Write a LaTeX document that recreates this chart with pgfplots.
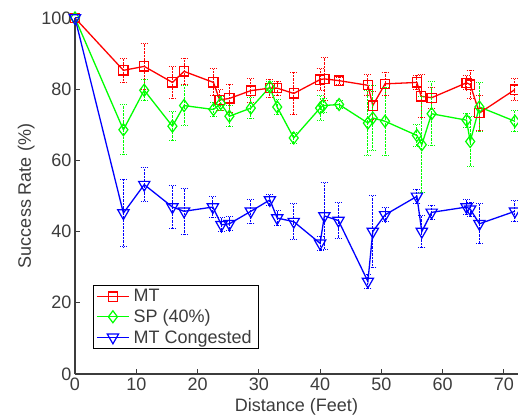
\documentclass[border=0pt]{standalone}
\usepackage{fontspec}
\setmainfont{Liberation Sans}
\usepackage{pgfplots}
\pgfplotsset{compat=1.18}
\usetikzlibrary{calc}

\definecolor{mtred}{RGB}{255,0,0}
\definecolor{spgreen}{RGB}{0,255,0}
\definecolor{cgblue}{RGB}{0,0,255}
\definecolor{axgray}{RGB}{60,60,60}

\newcommand{\bigfont}{\fontsize{18}{21}\selectfont}

\pgfplotsset{
  errstyle/.style={
    error bars/.cd, y dir=both, y explicit,
    error bar style={densely dotted, line width=1pt},
    error mark options={rotate=90, mark size=3.5pt, densely dotted, line width=1pt},
  },
}

\begin{document}
\begin{tikzpicture}
\begin{axis}[
  width=443pt, height=356pt, scale only axis,
  xmin=0, xmax=72.3, ymin=0, ymax=100,
  axis x line=bottom, axis y line=left,
  axis line style={-, line width=1.2pt, axgray},
  xtick={0,10,...,70}, ytick={0,20,...,100},
  tick align=inside, major tick length=5pt,
  tick style={axgray, line width=1pt},
  ticklabel style={font=\bigfont, text=axgray},
  /pgf/number format/assume math mode=true,
  xlabel={Distance (Feet)}, ylabel={Success Rate (\%)},
  label style={font=\bigfont, text=axgray},
  xlabel style={yshift=-1pt},
  ylabel style={yshift=0pt},
  legend style={at={(axis cs:2.9,7)}, anchor=south west,
    draw=black, line width=1pt, fill=white, font=\bigfont,
    text=axgray, cells={anchor=west},
    nodes={inner xsep=4pt, inner ysep=3pt},
    inner xsep=3pt, inner ysep=1pt},
  legend image code/.code={
    \draw[mark repeat=2,mark phase=2,#1]
      plot coordinates {(0pt,0pt) (16pt,0pt) (32pt,0pt)};
  },
  every axis plot/.append style={line width=1.3pt},
]
\coordinate (bl) at (rel axis cs:0,0);
\coordinate (tr) at (rel axis cs:1,1);

\addplot[mtred, mark=square, mark size=4.6pt, mark options={solid, line width=1.2pt}, errstyle]
coordinates {
 (0,100) +- (0,0)
 (7.9,85.3) +- (0,3.3)
 (11.3,86.4) +- (0,6.5)
 (15.9,81.9) +- (0,4.5)
 (17.8,85.0) +- (0,3.7)
 (22.6,81.9) +- (0,3.8)
 (23.6,77.0) +- (0,3)
 (25.2,77.4) +- (0,4)
 (28.7,79.6) +- (0,3.4)
 (31.8,80.3) +- (0,2.5)
 (33.0,80.3) +- (0,2)
 (35.7,78.8) +- (0,6)
 (40.0,82.7) +- (0,3)
 (40.7,82.9) +- (0,6)
 (43.1,82.4) +- (0,1)
 (47.8,81.1) +- (0,3)
 (48.6,75.4) +- (0,4)
 (50.6,81.5) +- (0,3.2)
 (55.8,81.9) +- (0,2)
 (56.5,78.0) +- (0,6)
 (58.2,77.6) +- (0,3)
 (63.9,81.8) +- (0,2)
 (64.5,81.3) +- (0,4)
 (66.0,73.3) +- (0,5)
 (71.8,79.9) +- (0,3)
};
\addlegendentry{MT}

\addplot[spgreen, mark=diamond, mark size=6pt, mark options={solid, line width=1.2pt}, errstyle]
coordinates {
 (0,100) +- (0,0)
 (7.9,68.6) +- (0,7)
 (11.3,79.7) +- (0,3)
 (15.9,69.6) +- (0,4)
 (17.8,75.4) +- (0,5.5)
 (22.6,74.3) +- (0,2)
 (23.8,76.0) +- (0,2)
 (25.2,72.4) +- (0,3)
 (28.7,74.7) +- (0,3)
 (31.8,80.6) +- (0,1.5)
 (33.0,75.0) +- (0,2)
 (35.7,66.3) +- (0,1.5)
 (40.0,74.7) +- (0,3.5)
 (40.5,75.4) +- (0,2)
 (43.1,75.7) +- (0,1)
 (47.8,70.5) +- (0,9)
 (48.6,71.9) +- (0,9)
 (50.6,71.0) +- (0,9.5)
 (55.8,67.0) +- (0,3)
 (56.6,64.4) +- (0,13.5)
 (58.2,73.1) +- (0,9)
 (63.9,71.3) +- (0,2)
 (64.5,65.3) +- (0,7)
 (66.0,75.0) +- (0,7)
 (71.8,71.0) +- (0,3)
};
\addlegendentry{SP (40\%)}

\addplot[cgblue, mark=triangle, mark size=6.5pt, mark options={solid, rotate=180, line width=1.2pt}, errstyle]
coordinates {
 (0,100) +- (0,0)
 (7.9,45.2) +- (0,9.5)
 (11.3,53.2) +- (0,4.7)
 (15.9,46.9) +- (0,6)
 (17.8,45.7) +- (0,6.5)
 (22.5,46.9) +- (0,3)
 (23.9,41.9) +- (0,2)
 (25.2,42.2) +- (0,2)
 (28.7,45.7) +- (0,3.3)
 (31.8,48.9) +- (0,1.5)
 (33.0,43.8) +- (0,2)
 (35.7,42.8) +- (0,5)
 (40.0,36.7) +- (0,2)
 (40.7,44.4) +- (0,9.4)
 (43.0,43.1) +- (0,5)
 (47.8,26.0) +- (0,2)
 (48.6,40.0) +- (0,10)
 (50.6,44.7) +- (0,2)
 (55.8,49.9) +- (0,2)
 (56.6,40.0) +- (0,4.5)
 (58.2,45.4) +- (0,2)
 (63.9,46.9) +- (0,2)
 (64.5,46.3) +- (0,2)
 (66.0,42.2) +- (0,5.6)
 (71.8,45.7) +- (0,3)
};
\addlegendentry{MT Congested}
\end{axis}
\pgfresetboundingbox
\path[use as bounding box] ($(bl)+(-75pt,-43pt)$) rectangle ($(tr)+(0pt,18pt)$);
\end{tikzpicture}
\end{document}
